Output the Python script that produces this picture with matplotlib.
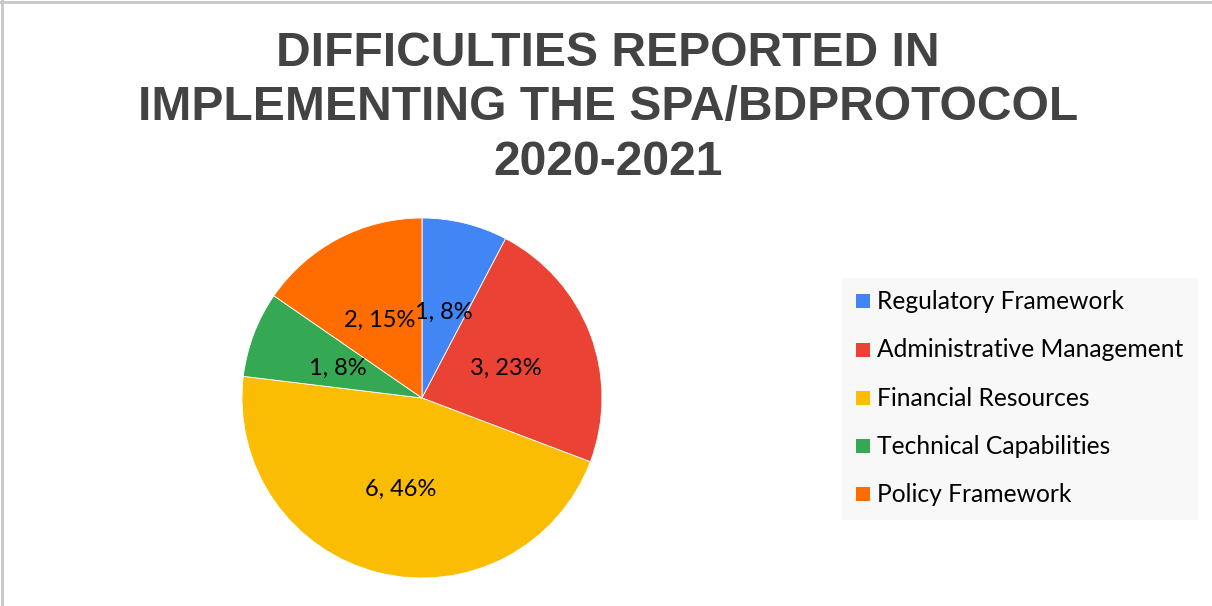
import numpy as np
import matplotlib
matplotlib.use("Agg")
import matplotlib.pyplot as plt
from matplotlib.patches import Rectangle
from matplotlib.lines import Line2D

categories = ["Regulatory Framework", "Administrative Management",
              "Financial Resources", "Technical Capabilities", "Policy Framework"]
counts = [1, 3, 6, 1, 2]
colors = ["#4285F4", "#EA4335", "#FBBC04", "#34A853", "#FF6D01"]
title = "DIFFICULTIES REPORTED IN\nIMPLEMENTING THE SPA/BDPROTOCOL\n2020-2021"

W, H = 1212, 606
fig = plt.figure(figsize=(W / 100, H / 100), dpi=100)
fig.patch.set_facecolor("white")

# thin frame on top and left edges
fig.add_artist(Line2D([0, 1], [1 - 1.5 / H, 1 - 1.5 / H], transform=fig.transFigure,
                      color="#c6c6c6", lw=2))
fig.add_artist(Line2D([1.5 / W, 1.5 / W], [0, 1], transform=fig.transFigure,
                      color="#c6c6c6", lw=2))

fig.text(608 / W, 1 - 108 / H, title, ha="center", va="center",
         fontsize=34.6, fontweight="bold", color="#434343",
         family="Liberation Sans", linespacing=1.26)

# pie
cx, cy, R = 422, 398, 180
ax = fig.add_axes([(cx - R) / W, (H - cy - R) / H, 2 * R / W, 2 * R / H])
wedges, _ = ax.pie(counts, colors=colors, startangle=90, counterclock=False,
                   radius=1.0, wedgeprops=dict(linewidth=0.6, edgecolor="white"))
ax.set_xlim(-1, 1)
ax.set_ylim(-1, 1)
ax.set_aspect("equal")
ax.axis("off")

total = sum(counts)
# radial distance and angular nudge (degrees) of each data label
label_r = [0.49, 0.495, 0.52, 0.495, 0.49]
label_dang = [-0.6, -1.1, 0.5, 1.1, 0.9]
for w, n, r, da in zip(wedges, counts, label_r, label_dang):
    mid = np.deg2rad((w.theta1 + w.theta2) / 2 + da)
    pct = round(100 * n / total)
    ax.text(r * np.cos(mid), r * np.sin(mid), f"{n}, {pct}%",
            ha="center", va="center", fontsize=17, family="Lato", color="black")

# legend
lx0, ly0, lx1, ly1 = 842, 278, 1198, 520
fig.add_artist(Rectangle((lx0 / W, 1 - ly1 / H), (lx1 - lx0) / W, (ly1 - ly0) / H,
                         transform=fig.transFigure, facecolor="#f8f8f8",
                         edgecolor="none"))
ys = [301, 349.5, 398, 446, 494]
sq = 14
for name, col, y in zip(categories, colors, ys):
    fig.add_artist(Rectangle((856 / W, 1 - (y + sq / 2) / H), sq / W, sq / H,
                             transform=fig.transFigure, facecolor=col,
                             edgecolor="none"))
    fig.text(877 / W, 1 - y / H, name, ha="left", va="center",
             fontsize=17.7, family="Lato", color="black")

fig.savefig("out.png", dpi=100)
